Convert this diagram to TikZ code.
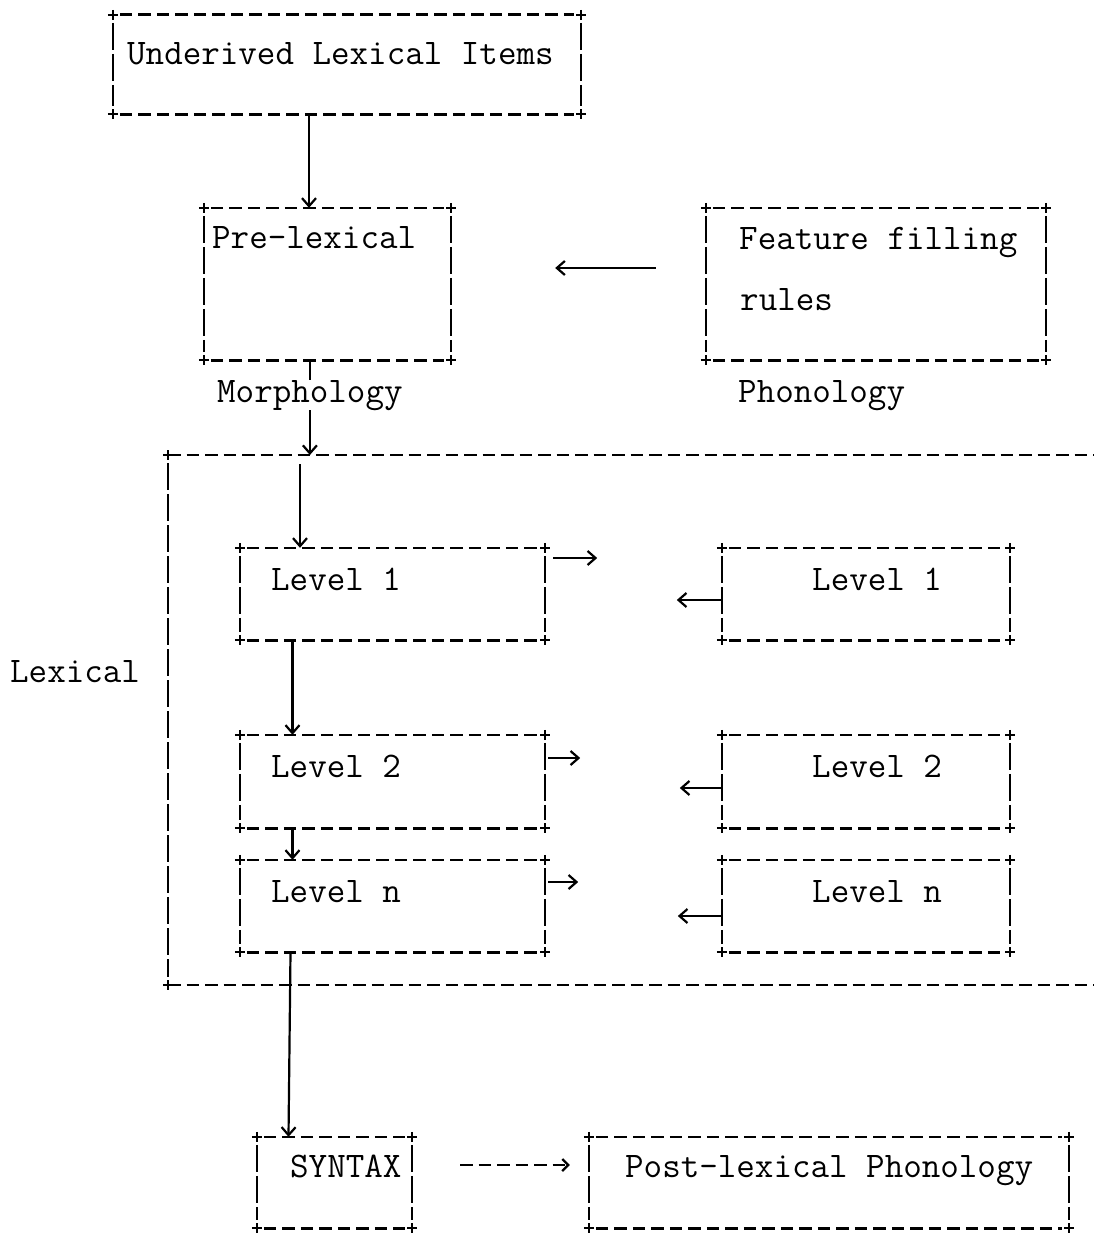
\documentclass[tikz,border=0pt]{standalone}
\usepackage{tikz}
\usetikzlibrary{arrows.meta,calc}

\tikzset{
  txt/.style={font=\ttfamily\fontsize{36}{40}\selectfont, inner sep=0pt, anchor=base west},
  tbox/.style={draw=none, inner sep=0pt},
  hdash/.style={line width=2.6pt, dash pattern=on 12.5pt off 6pt},
  vbar/.style={line width=2.4pt, dash pattern=on 27pt off 4pt},
  plus/.style={line width=2.2pt},
  arr/.style={line width=2.2pt, -{Straight Barb[length=8pt,width=14pt,line width=2.2pt]}}
}

% dashed typewriter box with + corners
\newcommand{\asciibox}[1]{%
  \draw[hdash, shorten <=7pt, shorten >=7pt] (#1.north west) -- (#1.north east);
  \draw[hdash, shorten <=7pt, shorten >=7pt] (#1.south west) -- (#1.south east);
  \draw[vbar, shorten <=8pt, shorten >=8pt] (#1.north west) -- (#1.south west);
  \draw[vbar, shorten <=8pt, shorten >=8pt] (#1.north east) -- (#1.south east);
  \foreach \c in {north west,north east,south west,south east}
    {\draw[plus] (#1.\c) +(-5,0) -- +(5,0) +(0,-5) -- +(0,5);}
}

\begin{document}
\begin{tikzpicture}[x=1pt,y=-1pt]
    \useasboundingbox (0,0) rectangle (1094,1239);

    % top part
    \node[tbox, minimum width=468, minimum height=99] (underived) at (347,64.5) {};
    \asciibox{underived}
    \node[txt] (underivedtxt) at (127,64) {Underived Lexical Items};

    \node[tbox, minimum width=247, minimum height=152] (prelex) at (327.5,284) {};
    \asciibox{prelex}
    \node[txt] (prelextxt) at (212,248) {Pre-lexical};

    \node[tbox, minimum width=340, minimum height=152] (feature) at (876,284) {};
    \asciibox{feature}
    \node[txt] (featuretxt) at (739,249) {Feature filling};
    \node[txt] (rulestxt) at (740,310) {rules};

    \node[txt] (morph) at (217,402) {Morphology};
    \node[txt] (phon) at (738,402) {Phonology};

    \draw[arr] ([xshift=-38]underived.south) -- ([xshift=-18.5]prelex.north);
    \draw[arr] ([xshift=-50,yshift=16]feature.west) -- ([xshift=104,yshift=16]prelex.east);
    \draw[plus] (morph.north |- prelex.south) -- (morph.north);

    % lexical block
    \coordinate (lexNW) at (168,455);
    \coordinate (lexSW) at (168,985);
    \draw[hdash] (lexNW) -- (1094,455);
    \draw[hdash] (lexSW) -- (1094,985);
    \draw[vbar, shorten <=8pt, shorten >=8pt] (lexNW) -- (lexSW);
    \draw[plus] (lexNW) +(-5,0) -- +(5,0) +(0,-5) -- +(0,5);
    \draw[plus] (lexSW) +(-5,0) -- +(5,0) +(0,-5) -- +(0,5);
    \node[txt] (lexical) at (10,682) {Lexical};

    \draw[arr] (morph.south) -- (morph.south |- lexNW);
    \coordinate (lexin) at (300,464);

    \node[tbox, minimum width=305, minimum height=92] (lvl1L) at (392.5,594) {};
    \node[tbox, minimum width=305, minimum height=93] (lvl2L) at (392.5,781.5) {};
    \node[tbox, minimum width=305, minimum height=92] (lvlnL) at (392.5,906) {};
    \node[tbox, minimum width=288, minimum height=92] (lvl1R) at (866,594) {};
    \node[tbox, minimum width=288, minimum height=93] (lvl2R) at (866,781.5) {};
    \node[tbox, minimum width=288, minimum height=92] (lvlnR) at (866,906) {};
    \foreach \b in {lvl1L,lvl2L,lvlnL,lvl1R,lvl2R,lvlnR}
      {\asciibox{\b}}

    \node[txt] (lvl1Ltxt) at (271,590) {Level 1};
    \node[txt] (lvl2Ltxt) at (271,777) {Level 2};
    \node[txt] (lvlnLtxt) at (271,902) {Level n};
    \node[txt] (lvl1Rtxt) at (812,590) {Level 1};
    \node[txt] (lvl2Rtxt) at (812,777) {Level 2};
    \node[txt] (lvlnRtxt) at (812,902) {Level n};

    \draw[arr] (lexin) -- (lexin |- lvl1L.north);
    \draw[arr] ([xshift=-100]lvl1L.south) -- ([xshift=-100]lvl2L.north);
    \draw[arr] ([xshift=-100]lvl2L.south) -- ([xshift=-100]lvlnL.north);

    \draw[arr] ([xshift=8,yshift=36]lvl1L.east) -- ([xshift=52,yshift=36]lvl1L.east);
    \draw[arr] ([xshift=3,yshift=23.5]lvl2L.east) -- ([xshift=35,yshift=23.5]lvl2L.east);
    \draw[arr] ([xshift=3,yshift=24]lvlnL.east) -- ([xshift=33,yshift=24]lvlnL.east);
    \draw[arr] ([yshift=-6]lvl1R.west) -- ([xshift=-45,yshift=-6]lvl1R.west);
    \draw[arr] ([yshift=-6.5]lvl2R.west) -- ([xshift=-42,yshift=-6.5]lvl2R.west);
    \draw[arr] ([yshift=-10]lvlnR.west) -- ([xshift=-44,yshift=-10]lvlnR.west);

    % bottom part
    \node[tbox, minimum width=155, minimum height=91] (syntax) at (334.5,1182.5) {};
    \asciibox{syntax}
    \node[txt] (syntaxtxt) at (290,1177) {SYNTAX};

    \node[tbox, minimum width=480, minimum height=91] (post) at (829,1182.5) {};
    \asciibox{post}
    \node[txt] (posttxt) at (625,1177) {Post-lexical Phonology};

    \draw[arr] ([xshift=-102]lvlnL.south) -- ([xshift=-46]syntax.north);
    \draw[hdash, -{Straight Barb[length=6pt,width=12pt,line width=2.2pt]}]
      ([xshift=48,yshift=17.5]syntax.east) -- ([xshift=-19,yshift=17.5]post.west);

\end{tikzpicture}
\end{document}
